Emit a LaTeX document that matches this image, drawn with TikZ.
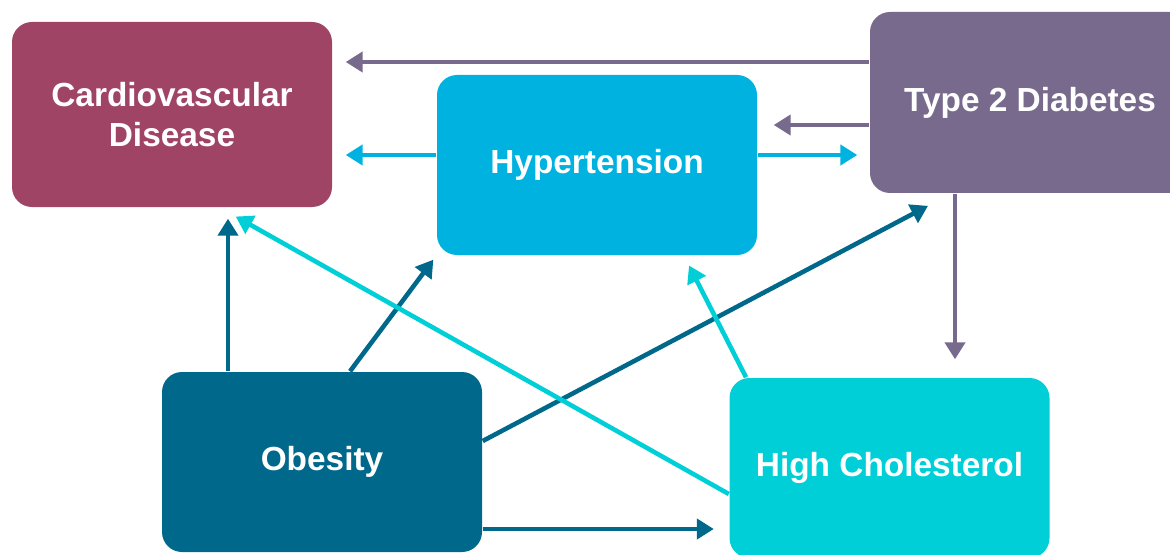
\documentclass[tikz,border=0pt]{standalone}
\usepackage{fontspec}
\setmainfont{Liberation Sans}
\usepackage{xcolor}
\usetikzlibrary{arrows.meta}
\definecolor{cvdcol}{HTML}{A04466}
\definecolor{hypcol}{HTML}{00B2E0}
\definecolor{diacol}{HTML}{786A8C}
\definecolor{obecol}{HTML}{00688A}
\definecolor{cholcol}{HTML}{00CFD7}
\begin{document}
\begin{tikzpicture}[
box/.style={rounded corners=.2cm,inner sep=0pt,text=white,align=center,
  minimum width=3.2cm,minimum height=1.8cm,
  font=\fontsize{9.5}{11.4}\selectfont\bfseries},
link/.style={line width=1.3pt,-{Triangle[length=1.7mm,width=2mm]}}
]
\useasboundingbox (0,0) rectangle (11.7,5.54);
\node[box,fill=cvdcol,minimum height=1.85cm] (cvd) at (1.72,4.395) {Cardiovascular\\Disease};
\node[box,fill=hypcol] (hyp) at (5.97,3.89) {Hypertension};
\node[box,fill=diacol,minimum height=1.81cm] (t2d) at (10.30,4.515) {Type 2 Diabetes};
\node[box,fill=obecol] (obe) at (3.22,0.92) {Obesity};
\node[box,fill=cholcol] (hc) at (8.895,0.86) {High Cholesterol};

\draw[link,diacol,shorten >=.13cm] (t2d.west |- 0,4.92) -- (cvd.east |- 0,4.92);
\draw[link,diacol,shorten >=.16cm] (t2d.west |- 0,4.29) -- (hyp.east |- 0,4.29);
\draw[link,diacol,shorten >=.18cm] (t2d.south -| 9.55,0) -- (hc.north -| 9.55,0);

\draw[link,hypcol,shorten >=.13cm] (hyp.west |- 0,3.99) -- (cvd.east |- 0,3.99);
\draw[link,hypcol,shorten >=.12cm] (hyp.east |- 0,3.99) -- (t2d.west |- 0,3.99);

\draw[link,obecol,shorten >=.11cm] (obe.north -| 2.28,0) -- (cvd.south -| 2.28,0);
\draw[link,obecol,shorten >=.05cm] (obe.north -| 3.50,0) -- (hyp.south west);
\draw[link,obecol,shorten >=.26cm] (obe.east |- 0,1.13) -- (t2d.south -| 9.51,0);
\draw[link,obecol,shorten >=.15cm] (obe.east |- 0,0.25) -- (hc.west |- 0,0.25);

\draw[link,cholcol,shorten >=.18cm] (hc.west |- 0,0.60) -- (cvd.south -| 2.20,0);
\draw[link,cholcol,shorten >=.11cm] (hc.north -| 7.46,0) -- (hyp.south -| 6.84,0);
\end{tikzpicture}
\end{document}
